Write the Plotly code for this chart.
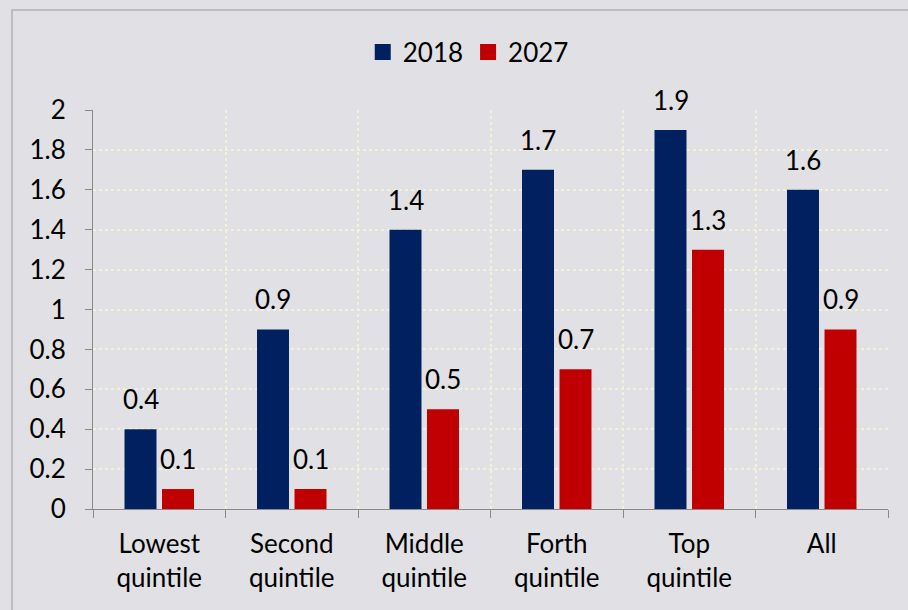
import plotly.graph_objects as go

categories = ["Lowest<br>quintile", "Second<br>quintile", "Middle<br>quintile",
              "Forth<br>quintile", "Top<br>quintile", "All"]
series_2018 = [0.4, 0.9, 1.4, 1.7, 1.9, 1.6]
series_2027 = [0.1, 0.1, 0.5, 0.7, 1.3, 0.9]
y_ticks = [0, 0.2, 0.4, 0.6, 0.8, 1, 1.2, 1.4, 1.6, 1.8, 2]

FONT = "Lato, Carlito, Calibri, sans-serif"
FS = 26
BLUE = "#002060"
RED = "#c00000"

fig = go.Figure()
fig.add_trace(go.Bar(name="2018", x=categories, y=series_2018, marker_color=BLUE,
                     marker_line_width=0, showlegend=False))
fig.add_trace(go.Bar(name="2027", x=categories, y=series_2027, marker_color=RED,
                     marker_line_width=0, showlegend=False))
# legend entries with larger square swatches
for name, col in (("2018", BLUE), ("2027", RED)):
    fig.add_trace(go.Scatter(name=name, x=[None], y=[None], mode="markers",
                             marker=dict(symbol="square", size=20, color=col),
                             showlegend=True))

annotations = []
for vals, shift in ((series_2018, -18.75), (series_2027, 18.75)):
    for c, v in zip(categories, vals):
        annotations.append(dict(x=c, y=v, xref="x", yref="y", text=f"{v:g}",
                                showarrow=False, xshift=shift, yshift=12,
                                yanchor="bottom", font=dict(size=FS, color="black", family=FONT)))

fig.update_layout(
    width=908, height=610,
    margin=dict(l=93, r=20, t=110, b=101),
    paper_bgcolor="#e1e0e4", plot_bgcolor="#e1e0e4",
    font=dict(family=FONT, size=FS, color="black"),
    barmode="group", bargap=0.434, bargroupgap=0.147,
    legend=dict(orientation="h", x=0.472, xanchor="center", y=1.145, yanchor="middle",
                font=dict(size=FS), bgcolor="rgba(0,0,0,0)",
                itemwidth=30, tracegroupgap=0),
    annotations=annotations,
    shapes=[dict(type="rect", xref="paper", yref="paper", x0=-0.1019, x1=1.2,
                 y0=-0.5, y1=1.2506, line=dict(color="#bdbcbf", width=2), layer="below")],
)
fig.update_xaxes(
    type="category", tickson="boundaries", ticks="outside", ticklen=8,
    tickcolor="#898989", showline=True, linecolor="#898989", linewidth=1,
    showgrid=True, gridcolor="#f3f1dc", griddash="dot", gridwidth=1.5,
    tickfont=dict(size=FS), ticklabelstandoff=12,
)
fig.update_yaxes(
    range=[0, 2], tickvals=y_ticks, ticks="outside", ticklen=7,
    tickcolor="#898989", showline=True, linecolor="#898989", linewidth=1,
    showgrid=True, gridcolor="#f3f1dc", griddash="dot", gridwidth=1.5,
    zeroline=False, tickfont=dict(size=FS), ticklabelstandoff=14,
)

fig.write_html("out.html")
